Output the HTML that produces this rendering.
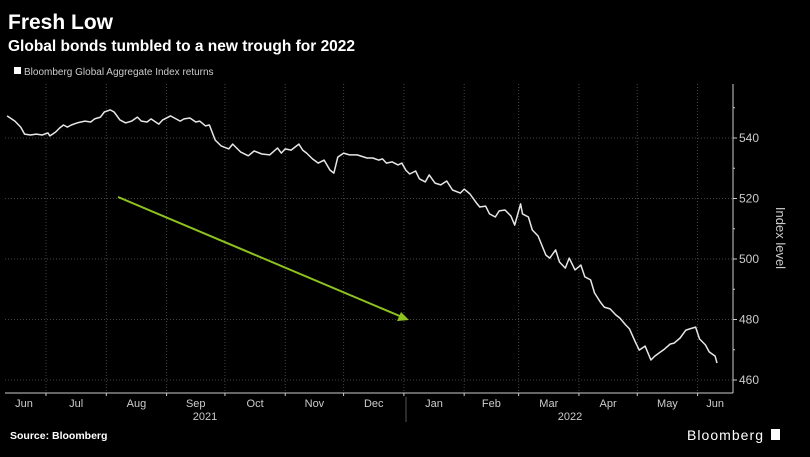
<!DOCTYPE html>
<html><head><meta charset="utf-8">
<style>
body{margin:0;background:#000;width:810px;height:457px;overflow:hidden;font-family:"Liberation Sans",sans-serif;color:#fff}
svg{position:absolute;left:0;top:0}
</style></head>
<body>
<svg width="810" height="457" id="c">
<rect width="810" height="457" fill="#000"/>
<text x="8" y="29" font-size="21" font-weight="bold" fill="#fff">Fresh Low</text>
<text x="8" y="51" font-size="15.5" font-weight="bold" fill="#fff">Global bonds tumbled to a new trough for 2022</text>
<rect x="14" y="67" width="7" height="7" fill="#fff"/>
<text x="24" y="75" font-size="10" fill="#ccc">Bloomberg Global Aggregate Index returns</text>
<g id="grid"></g>
<g id="axes"></g>
<g id="series"></g>
<line x1="118" y1="197" x2="402" y2="317" stroke="#8dc21f" stroke-width="2"/>
<polygon points="409,320 397,321 401,312" fill="#8dc21f"/>
<text x="776" y="238" font-size="13" fill="#ccc" transform="rotate(90 776 238)" text-anchor="middle">Index level</text>
<text x="205" y="420" font-size="11" fill="#ccc" text-anchor="middle">2021</text>
<text x="570" y="420" font-size="11" fill="#ccc" text-anchor="middle">2022</text>
<line x1="406" y1="397" x2="406" y2="422" stroke="#555"/>
<text x="10" y="439" font-size="10.5" font-weight="bold" fill="#fff">Source: Bloomberg</text>
<text x="687" y="440" font-size="14" fill="#fff" textLength="76">Bloomberg</text>
<rect x="771" y="429" width="9" height="11" fill="#fff"/>
</svg>
<script>
const days=[-20,-16,-13,-11,-8,-5,-2,1,2,5,7,9,11,13,16,20,23,25,28,30,33,35,38,41,44,47,49,52,54,58,60,64,66,69,71,74,77,79,82,84,87,90,94,96,100,104,107,111,115,119,121,123,126,130,132,134,137,140,143,146,148,150,153,156,160,165,168,171,173,175,178,181,183,185,187,190,192,195,197,200,203,206,209,213,215,218,221,223,226,228,231,233,236,239,241,244,245,248,250,253,257,259,262,264,267,269,272,275,277,280,282,285,287,290,293,295,298,300,303,305,308,311,313,316,318,321,323,326,329,331,334,336,339,341,344,345];
const values=[547.3,545.6,543.6,541.3,541.0,541.3,541.0,541.7,540.7,542.0,543.3,544.3,543.6,544.3,545.0,545.6,545.3,546.3,546.9,548.6,549.3,548.6,546.0,545.0,545.6,546.9,545.6,545.3,546.3,544.6,546.0,547.3,546.6,545.6,546.3,546.6,545.3,545.6,544.0,544.3,539.3,537.4,536.4,538.0,535.4,534.1,535.7,534.7,534.4,536.7,535.0,536.4,536.0,538.0,536.0,535.0,533.1,531.7,532.7,529.4,528.4,533.7,535.0,534.4,534.4,533.4,533.4,532.7,533.1,531.7,532.1,531.1,531.7,529.4,528.1,529.1,526.5,525.5,527.8,525.1,524.5,525.8,522.8,521.8,523.1,521.5,518.8,517.2,517.5,514.9,513.9,515.9,516.2,514.2,511.2,518.2,514.9,513.9,509.6,507.6,501.3,500.3,503.0,499.0,497.0,500.3,496.4,498.0,494.1,493.1,488.8,485.8,484.1,483.5,481.5,480.5,478.2,476.9,472.6,469.9,471.2,466.6,467.9,469.3,470.2,471.9,472.2,473.9,476.5,476.9,477.5,473.6,471.6,469.3,467.9,465.6];
const yTicks=[460,480,500,520,540];
const monthLabels=["Jun","Jul","Aug","Sep","Oct","Nov","Dec","Jan","Feb","Mar","Apr","May","Jun"];
const monthStartDays=[-30,0,31,62,92,123,153,184,215,243,274,304,335];

const NS="http://www.w3.org/2000/svg";
const x=d=>46+d*1.945;
const y=v=>380-(v-460)*3.025;
function mk(tag,attrs,parent){const e=document.createElementNS(NS,tag);for(const k in attrs)e.setAttribute(k,attrs[k]);parent.appendChild(e);return e;}
const grid=document.getElementById('grid'),axes=document.getElementById('axes'),series=document.getElementById('series');
const L=5,R=733,T=84,B=393;
yTicks.forEach(t=>{
 const g=mk('line',{x1:L,x2:R,y1:y(t),y2:y(t),stroke:'#444','stroke-dasharray':'1,2'},grid);
 
 
 const tk=mk('line',{x1:R,x2:R+4,y1:y(t),y2:y(t),stroke:'#ccc'},axes);
 
 
 const tx=mk('text',{x:R+6,y:y(t)+4,'font-size':12,fill:'#ccc'},axes);
 tx.textContent=t;
 
 
});
for(let v=470;v<=550;v+=20){const m=mk('line',{x1:R,x2:R+2,y1:y(v),y2:y(v),stroke:'#ccc'},axes);
 
 }
monthStartDays.forEach((d,i)=>{
 if(i>0){const g=mk('line',{x1:x(d),x2:x(d),y1:T,y2:B,stroke:'#444','stroke-dasharray':'1,2'},grid);
  
  
  const tk=mk('line',{x1:x(d),x2:x(d),y1:B,y2:B+3,stroke:'#ccc'},axes);
  
  }
 const next=i<monthStartDays.length-1?monthStartDays[i+1]:d+18;
 let cx=(x(d)+x(next))/2; if(i==0)cx=24;
 const t=mk('text',{x:cx,y:B+14,'font-size':11,fill:'#ccc','text-anchor':'middle'},axes);
 t.textContent=monthLabels[i];
 
 
});
const ax=mk('line',{x1:R,x2:R,y1:T,y2:B,stroke:'#ccc'},axes);


const bx=mk('line',{x1:L,x2:R,y1:B,y2:B,stroke:'#ccc'},axes);


const p=mk('polyline',{points:days.map((d,i)=>x(d).toFixed(1)+','+y(values[i]).toFixed(1)).join(' '),fill:'none',stroke:'#e6e6e6','stroke-width':1.5,'stroke-linejoin':'round'},series);


</script>
</body></html>
